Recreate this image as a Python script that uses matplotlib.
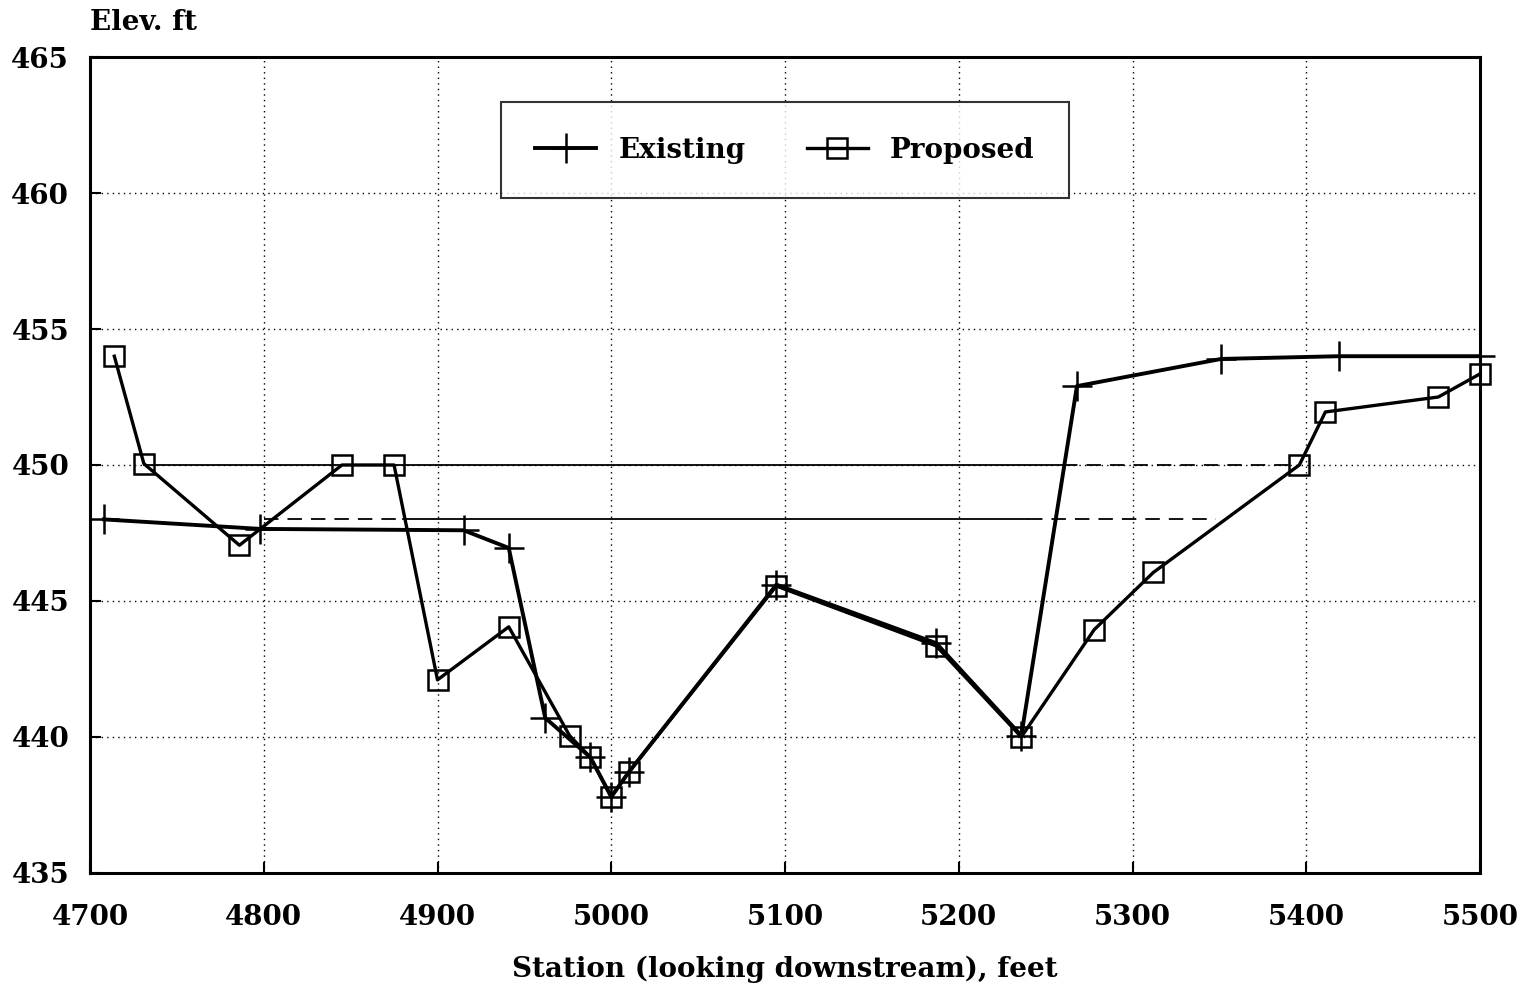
import matplotlib
matplotlib.use('Agg')
import matplotlib.pyplot as plt
from matplotlib import rcParams

rcParams['font.family'] = 'DejaVu Serif'
rcParams['font.weight'] = 'bold'
rcParams['axes.labelweight'] = 'bold'
rcParams['font.size'] = 20

# station (ft) and elevation (ft) of the two cross sections
existing_x = [4708, 4798, 4915, 4941, 4962, 4988, 5000, 5010, 5095,
              5187, 5236, 5268, 5351, 5419, 5500]
existing_y = [448.0, 447.65, 447.6, 446.95, 440.7, 439.25, 437.8, 438.7, 445.6,
              443.45, 440.05, 452.9, 453.9, 454.0, 454.0]

proposed_x = [4714, 4731, 4786, 4845, 4875, 4900, 4941, 4976, 4988, 5000,
              5010, 5095, 5187, 5236, 5278, 5312, 5396, 5411, 5476, 5500]
proposed_y = [454.0, 450.05, 447.05, 450.0, 450.0, 442.1, 444.05, 440.05, 439.25, 437.8,
              438.7, 445.55, 443.35, 440.0, 443.95, 446.05, 450.0, 451.95, 452.5, 453.35]

# water surfaces (solid and dashed pieces)
ws_prop_solid = [4731, 5260]
ws_prop_dashed = [5260, 5396]
ws_prop_elev = 450.0
ws_exist_solid = [4880, 5240]
ws_exist_dashed = [[4800, 4880], [5240, 5348]]
ws_exist_elev = 448.0

xticks = [4700, 4800, 4900, 5000, 5100, 5200, 5300, 5400, 5500]
yticks = [435, 440, 445, 450, 455, 460, 465]

fig = plt.figure(figsize=(15.28, 9.92), dpi=100)
ax = fig.add_axes([0.0589, 0.12, 0.9097, 0.8225])

ax.plot(ws_prop_solid, [ws_prop_elev] * 2, color='black', lw=1.3)
ax.plot(ws_prop_dashed, [ws_prop_elev] * 2, color='black', lw=1.3, ls=(0, (8, 5)))
ax.plot(ws_exist_solid, [ws_exist_elev] * 2, color='black', lw=1.3)
for seg in ws_exist_dashed:
    ax.plot(seg, [ws_exist_elev] * 2, color='black', lw=1.3, ls=(0, (8, 5)))

ax.plot(existing_x, existing_y, color='black', lw=2.8, marker='+',
        markersize=22, markeredgewidth=1.8, label='Existing', clip_on=False)
ax.plot(proposed_x, proposed_y, color='black', lw=2.4, marker='s',
        markersize=14, markerfacecolor='none', markeredgewidth=1.8,
        label='Proposed', clip_on=False)

ax.set_xlim(4700, 5500)
ax.set_ylim(435, 465)
ax.set_xticks(xticks)
ax.set_yticks(yticks)
ax.grid(True, color='black', ls=(0, (1, 3)), lw=1.0)
ax.tick_params(direction='in', length=8, width=1.5, labelsize=20)
ax.tick_params(axis='x', pad=22)
ax.tick_params(axis='y', pad=15)
for s in ax.spines.values():
    s.set_linewidth(2.2)

ax.set_xlabel('Station (looking downstream), feet', fontsize=20, labelpad=18)
fig.text(90 / 1528, 1 - 22 / 992, 'Elev. ft', ha='left', va='center', fontsize=20)

leg = ax.legend(loc='upper center', bbox_to_anchor=(0.5, 0.945), ncol=2,
                fontsize=20, frameon=True, fancybox=False, edgecolor='black',
                handlelength=2.2, columnspacing=2.2, borderpad=1.25,
                handletextpad=0.8, borderaxespad=0)
leg.get_frame().set_linewidth(1.5)

fig.savefig('out.png', dpi=100)
